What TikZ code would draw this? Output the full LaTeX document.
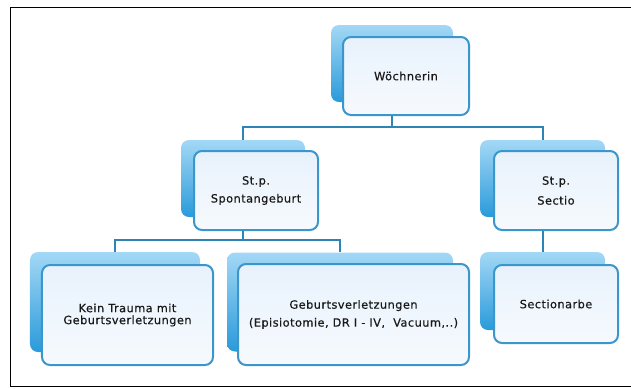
\documentclass[tikz,border=0pt]{standalone}
\usepackage{fontspec}
\newfontfamily\kastenfont{DejaVu Sans}[LetterSpace=4,FakeBold=0.4]
\usetikzlibrary{positioning}
\definecolor{randblau}{HTML}{3B96CB}
\definecolor{astblau}{HTML}{2F84B6}
\definecolor{hellblau}{HTML}{A3D8F6}
\definecolor{tiefblau}{HTML}{2A9ADA}
\definecolor{fuellung}{HTML}{E8F2FC}
\tikzset{
  hinten/.style={rounded corners=8bp, top color=hellblau, bottom color=tiefblau, inner sep=0pt},
  vorne/.style={draw=randblau, line width=2bp, rounded corners=8bp, top color=fuellung, bottom color=fuellung!40!white,
    align=center, inner sep=0pt, font=\kastenfont\fontsize{11.4}{18}\selectfont, text=black!90},
  ast/.style={draw=astblau, line width=2bp},
  rahmen/.style={draw=black, line width=1.4bp}
}

\begin{document}
\begin{tikzpicture}[x=1bp,y=-1bp]
\useasboundingbox (0,0) rectangle (631,388);

% Rahmen
\draw[rahmen] (631,7.5) -- (10.5,7.5) -- (10.5,386.5) -- (631,386.5);

% hintere Kaesten
\node[hinten, minimum width=122bp, minimum height=77bp] (W-h) at (392,63.5) {};
\node[hinten, minimum width=124bp, minimum height=77bp] (S-h) at (243,178.5) {};
\node[hinten, minimum width=125bp, minimum height=77bp] (T-h) at (542.5,178.5) {};
\node[hinten, minimum width=170bp, minimum height=100bp] (K-h) at (115,302) {};
\node[hinten, minimum width=226bp, minimum height=99bp] (G-h) at (340,302) {};
\node[hinten, minimum width=125bp, minimum height=78bp] (N-h) at (542.5,291) {};

% Verbindungen
\draw[ast] (W-h.south) -- ++(0,25) coordinate (W-ast) -| (S-h.north);
\draw[ast] (W-ast) -| (T-h.north);
\draw[ast] (S-h.south) -- ++(0,23) coordinate (S-ast) -| (K-h.north);
\draw[ast] (S-ast) -| (G-h.north);
\draw[ast] (T-h.south) -- (N-h.north);

% vordere Kaesten
\node[vorne, minimum width=126bp, minimum height=78bp] (W) at (406,76) {Wöchnerin};
\node[vorne, minimum width=124bp, minimum height=79bp] (S) at (256,190.5) {St.p.\\Spontangeburt};
\node[vorne, minimum width=124bp, minimum height=79bp] (T) at (556,190.5) {St.p.\\[2bp]Sectio};
\node[vorne, minimum width=171bp, minimum height=100bp,
  font=\kastenfont\fontsize{11.4}{12}\selectfont] (K) at (127.5,315) {Kein Trauma mit\\Geburtsverletzungen};
\node[vorne, minimum width=231bp, minimum height=101bp] (G) at (353.5,314.5) {Geburtsverletzungen\\(Episiotomie, DR I - IV,\ \ Vacuum,..)};
\node[vorne, minimum width=124bp, minimum height=78bp] (N) at (556,304) {Sectionarbe};

\end{tikzpicture}
\end{document}
